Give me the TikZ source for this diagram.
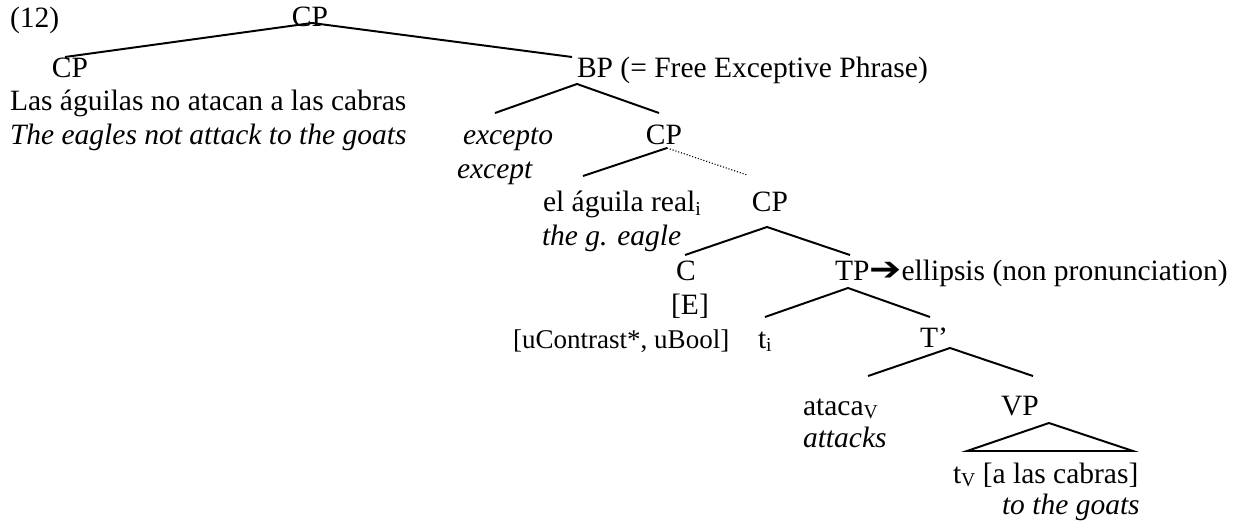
\documentclass[tikz,border=0pt]{standalone}
\usepackage{fontspec}
\setmainfont{Liberation Serif}
\newfontfamily\arrowfont{DejaVu Sans}
\newcommand\subs[1]{\raisebox{-0.12em}{\fontsize{8}{8}\selectfont #1}}
\begin{document}
\begin{tikzpicture}[x=0.4068pt,y=-0.4068pt,
  every node/.style={inner sep=0pt,outer sep=0pt,font=\fontsize{12}{14}\selectfont},
  lbl/.style={anchor=base west},
  ctr/.style={anchor=base},
  it/.style={font=\fontsize{12}{14}\selectfont\itshape},
  small/.style={font=\fontsize{11}{13}\selectfont},
  branch/.style={line width=0.8pt},
  dots/.style={line width=0.45pt,dash pattern=on 0.45pt off 0.75pt}]
\useasboundingbox (0,0) rectangle (1235,521);
% text nodes
\node[lbl] (ex) at (10,28) {(12)};
\node[ctr] (cp0) at (310,27) {CP};
\node[ctr] (cp1) at (70,78) {CP};
\node[lbl] (bp) at (577,78) {BP (= Free Exceptive Phrase)};
\node[lbl] (s1) at (10,111) {Las águilas no atacan a las cabras};
\node[lbl,it] (g1) at (10,145) {The eagles not attack to the goats};
\node[lbl,it] (exc) at (463,145) {excepto};
\node[lbl,it] (excg) at (457,178) {except};
\node[ctr] (cp2) at (664,145) {CP};
\node[lbl] (eag) at (543,212) {el águila real\subs{i}};
\node[lbl,it] (eagg) at (542,245) {the g. eagle};
\node[ctr] (cp3) at (770,212) {CP};
\node[ctr] (c) at (686,280) {C};
\node[ctr] (e) at (690,314) {[E]};
\node[lbl,small] (feat) at (513,348) {[uContrast*, uBool]};
\node[lbl] (tp) at (835,280) {TP\raisebox{0.0em}{\scalebox{1.3}[1.12]{\arrowfont ➔}}ellipsis (non pronunciation)};
\node[lbl] (ti) at (758,348) {t\subs{i}};
\node[lbl] (tbar) at (920,347) {T’};
\node[lbl] (ataca) at (803,415) {ataca\subs{V}};
\node[lbl,it] (attacks) at (803,447) {attacks};
\node[ctr] (vp) at (1020,415) {VP};
\node[lbl] (tv) at (953,483) {t\subs{V} [a las cabras]};
\node[lbl,it] (goats) at (1002,514) {to the goats};
% branch points
\coordinate (cp0-a) at (312,23);
\coordinate (cp1-t) at (65,57);
\coordinate (bp-t) at (572,57);
\coordinate (bp-a) at (577,84);
\coordinate (exc-t) at (495,113);
\coordinate (cp2-t) at (659,113);
\coordinate (cp2-a) at (667,148);
\coordinate (eag-t) at (583,176);
\coordinate (cp3-t) at (747,175);
\coordinate (cp3-a) at (767,227);
\coordinate (c-t) at (685,255);
\coordinate (tp-t) at (850,255);
\coordinate (tp-a) at (848,288);
\coordinate (ti-t) at (765,317);
\coordinate (tbar-t) at (930,317);
\coordinate (tbar-a) at (950,348);
\coordinate (ataca-t) at (868,376);
\coordinate (vp-t) at (1033,376);
\coordinate (vp-a) at (1049,423);
\coordinate (tri-l) at (967,451);
\coordinate (tri-r) at (1133,451);
% branches
\draw[branch] (cp1-t) -- (cp0-a) -- (bp-t);
\draw[branch] (exc-t) -- (bp-a) -- (cp2-t);
\draw[branch] (eag-t) -- (cp2-a);
\draw[dots] (cp2-a) -- (cp3-t);
\draw[branch] (c-t) -- (cp3-a) -- (tp-t);
\draw[branch] (ti-t) -- (tp-a) -- (tbar-t);
\draw[branch] (ataca-t) -- (tbar-a) -- (vp-t);
\draw[branch,line join=miter] (tri-l) -- (vp-a) -- (tri-r) -- cycle;
\end{tikzpicture}
\end{document}
